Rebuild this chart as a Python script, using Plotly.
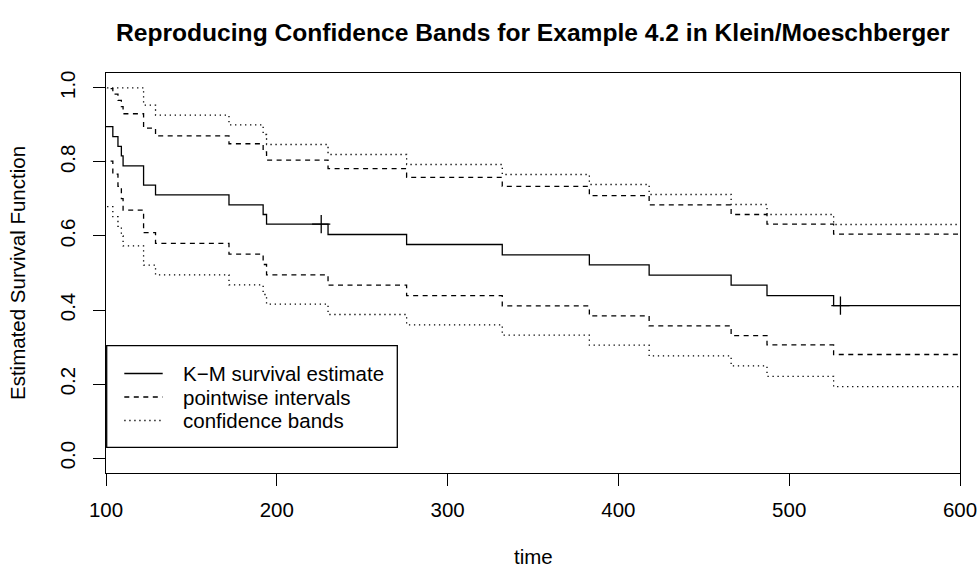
import plotly.graph_objects as go

# Step times (days) and estimates
times = [86, 104, 107, 109, 110, 122, 129, 172, 192, 194, 230, 276, 332, 383, 418, 466, 487, 526, 600]
km_surv = [0.895, 0.868, 0.842, 0.816, 0.789, 0.737, 0.711, 0.684, 0.658, 0.632,
           0.604, 0.577, 0.549, 0.522, 0.494, 0.467, 0.439, 0.412, 0.412]
pw_lower = [0.802, 0.767, 0.734, 0.701, 0.670, 0.609, 0.580, 0.551, 0.523, 0.495,
            0.467, 0.439, 0.411, 0.384, 0.357, 0.331, 0.306, 0.280, 0.280]
pw_upper = [0.998, 0.983, 0.966, 0.949, 0.930, 0.891, 0.870, 0.849, 0.827, 0.805,
            0.782, 0.758, 0.734, 0.709, 0.684, 0.658, 0.632, 0.605, 0.605]
band_lower = [0.679, 0.652, 0.626, 0.600, 0.573, 0.521, 0.495, 0.468, 0.442, 0.416,
              0.388, 0.360, 0.332, 0.305, 0.276, 0.249, 0.221, 0.193, 0.193]
band_upper = [1.000, 1.000, 1.000, 1.000, 1.000, 0.953, 0.926, 0.900, 0.874, 0.847,
              0.820, 0.793, 0.766, 0.739, 0.712, 0.685, 0.658, 0.631, 0.631]
cens_times = [226, 530]
cens_surv = [0.632, 0.412]

x_ticks = [100, 200, 300, 400, 500, 600]
y_ticks = [0.0, 0.2, 0.4, 0.6, 0.8, 1.0]
y_ticktext = ["0.0", "0.2", "0.4", "0.6", "0.8", "1.0"]

legend_labels = ["K\u2212M survival estimate", "pointwise intervals", "confidence bands"]

FONT = "Liberation Sans, Arial, Helvetica, sans-serif"
DASH = "5px,4.5px"
DOT = "1.3px,3.7px"
LW = 1.3

fig = go.Figure()


def step(y, dash):
    fig.add_trace(go.Scatter(x=times, y=y, mode="lines",
                             line=dict(color="black", width=LW, dash=dash, shape="hv"),
                             showlegend=False, hoverinfo="skip"))


step(band_lower, DOT)
step(band_upper, DOT)
step(pw_lower, DASH)
step(pw_upper, DASH)
step(km_surv, "solid")

fig.add_trace(go.Scatter(x=cens_times, y=cens_surv, mode="markers",
                         marker=dict(symbol="cross-thin", size=13,
                                     line=dict(color="black", width=LW)),
                         showlegend=False, hoverinfo="skip"))

# plot area in pixels: x 106..960, y 73..473
L, R, T, B = 106, 960, 73, 473


def px(X):
    return (X - L) / (R - L)


def py(Y):
    return (B - Y) / (B - T)


# legend box
fig.add_shape(type="rect", xref="paper", yref="paper",
              x0=px(106.7), x1=px(397.3), y0=py(447.3), y1=py(345.7),
              line=dict(color="black", width=LW), fillcolor="white", layer="above")
rows_y = [373.5, 397, 420.5]
dashes = ["solid", DASH, DOT]
for lab, yy, d in zip(legend_labels, rows_y, dashes):
    fig.add_shape(type="line", xref="paper", yref="paper",
                  x0=px(124.3), x1=px(162.7), y0=py(yy), y1=py(yy),
                  line=dict(color="black", width=LW, dash=d), layer="above")
    fig.add_annotation(xref="paper", yref="paper", x=px(181), y=py(yy),
                       text=lab, showarrow=False, xanchor="left", yanchor="middle",
                       font=dict(family=FONT, size=20.5, color="black"))

# titles
fig.add_annotation(xref="paper", yref="paper", x=0.5, y=py(33),
                   text="<b>Reproducing Confidence Bands for Example 4.2 in Klein/Moeschberger</b>",
                   showarrow=False, xanchor="center", yanchor="middle",
                   font=dict(family=FONT, size=24.6, color="black"))
fig.add_annotation(xref="paper", yref="paper", x=0.5, y=py(556),
                   text="time", showarrow=False, xanchor="center", yanchor="middle",
                   font=dict(family=FONT, size=20.5, color="black"))
fig.add_annotation(xref="paper", yref="paper", x=px(17), y=0.5,
                   text="Estimated Survival Function", textangle=-90,
                   showarrow=False, xanchor="center", yanchor="middle",
                   font=dict(family=FONT, size=20.5, color="black"))

fig.update_layout(
    width=980, height=569,
    margin=dict(l=L, r=980 - R, t=T, b=569 - B, pad=0, autoexpand=False),
    paper_bgcolor="white", plot_bgcolor="white",
    font=dict(family=FONT, size=20.5, color="black"),
    showlegend=False,
    xaxis=dict(range=[100, 600], tickvals=x_ticks, ticks="outside", ticklen=12,
               tickwidth=LW, tickcolor="black", showline=True, mirror=True,
               linecolor="black", linewidth=LW, showgrid=False, zeroline=False,
               ticklabelstandoff=6, automargin=False),
    yaxis=dict(range=[-0.04, 1.04], tickvals=y_ticks, ticktext=y_ticktext,
               tickangle=-90, ticks="outside", ticklen=12, tickwidth=LW,
               tickcolor="black", showline=True, mirror=True, linecolor="black",
               linewidth=LW, showgrid=False, zeroline=False, ticklabelstandoff=10,
               automargin=False),
)

fig.write_html("out.html",
               config={"displayModeBar": False},
               post_script="document.body.style.margin='0';"
                           "document.body.style.overflow='hidden';")
